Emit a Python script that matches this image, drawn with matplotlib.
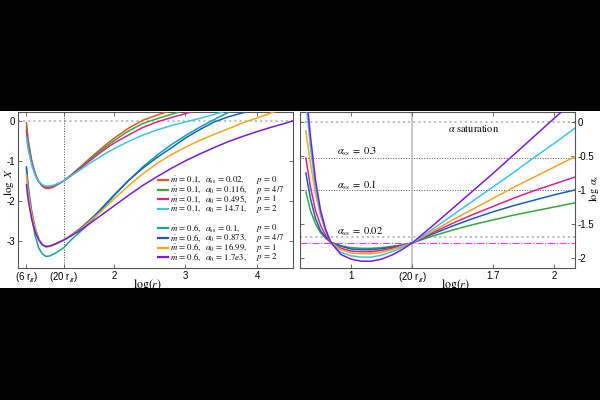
import numpy as np
import matplotlib
matplotlib.use('Agg')
import matplotlib.pyplot as plt
from matplotlib.patches import Rectangle

plt.rcParams['font.family'] = ['Liberation Sans', 'DejaVu Sans']
plt.rcParams['mathtext.fontset'] = 'stix'
plt.rcParams['axes.unicode_minus'] = False

# ---- left panel: log X vs log r ----
lr_left = [0.778, 0.8, 0.85, 0.9, 0.95, 1.0, 1.05, 1.1, 1.15, 1.2, 1.301,
           1.4, 1.5, 1.6, 1.7, 1.8, 1.9, 2.0, 2.2, 2.4, 2.6, 2.8, 3.0,
           3.2, 3.4, 3.6, 3.8, 4.0, 4.2, 4.4, 4.5]

logX_red = [-0.05, -0.45, -0.98, -1.32, -1.52, -1.64, -1.69, -1.69, -1.66, -1.61, -1.5,
            -1.36, -1.2, -1.04, -0.88, -0.73, -0.58, -0.44, -0.19, 0.01, 0.14, 0.26, 0.36,
            0.45, 0.53, 0.6, 0.66, 0.72, 0.77, 0.82, 0.84]
logX_green = [-0.15, -0.52, -1.02, -1.34, -1.52, -1.63, -1.67, -1.67, -1.65, -1.6, -1.5,
              -1.36, -1.21, -1.06, -0.91, -0.77, -0.63, -0.5, -0.26, -0.07, 0.05, 0.16, 0.27,
              0.36, 0.44, 0.51, 0.57, 0.63, 0.68, 0.73, 0.75]
logX_magenta = [-0.25, -0.6, -1.05, -1.35, -1.52, -1.62, -1.66, -1.66, -1.64, -1.59, -1.5,
                -1.37, -1.23, -1.09, -0.95, -0.81, -0.68, -0.56, -0.36, -0.17, -0.03, 0.08, 0.18,
                0.28, 0.36, 0.43, 0.5, 0.56, 0.61, 0.66, 0.68]
logX_cyan = [-0.4, -0.7, -1.1, -1.37, -1.52, -1.6, -1.63, -1.63, -1.61, -1.58, -1.5,
             -1.38, -1.26, -1.14, -1.02, -0.91, -0.8, -0.7, -0.52, -0.36, -0.23, -0.12, -0.03,
             0.06, 0.16, 0.26, 0.34, 0.42, 0.49, 0.55, 0.58]
logX_teal = [-1.2, -1.7, -2.4, -2.88, -3.18, -3.33, -3.39, -3.38, -3.34, -3.29, -3.17,
             -2.98, -2.82, -2.66, -2.48, -2.28, -2.08, -1.88, -1.5, -1.16, -0.86, -0.6, -0.37,
             -0.16, 0.03, 0.21, 0.37, 0.5, 0.6, 0.68, 0.72]
logX_blue = [-1.15, -1.6, -2.25, -2.68, -2.95, -3.1, -3.15, -3.14, -3.11, -3.07, -2.98,
             -2.86, -2.73, -2.58, -2.42, -2.24, -2.05, -1.86, -1.5, -1.19, -0.92, -0.68, -0.43,
             -0.22, -0.03, 0.1, 0.2, 0.29, 0.37, 0.44, 0.47]
logX_orange = [-1.35, -1.75, -2.32, -2.7, -2.96, -3.1, -3.15, -3.14, -3.11, -3.07, -2.98,
               -2.87, -2.75, -2.61, -2.46, -2.3, -2.13, -1.96, -1.63, -1.33, -1.07, -0.85, -0.66,
               -0.49, -0.34, -0.2, -0.05, 0.07, 0.2, 0.31, 0.35]
logX_purple = [-1.6, -1.95, -2.45, -2.78, -2.98, -3.1, -3.14, -3.13, -3.1, -3.06, -2.98,
               -2.88, -2.77, -2.65, -2.52, -2.39, -2.26, -2.13, -1.87, -1.62, -1.4, -1.19, -1.0,
               -0.83, -0.67, -0.52, -0.39, -0.27, -0.16, -0.06, 0.0]

# ---- right panel: log alpha_s vs log r ----
lr_right = [0.778, 0.8, 0.825, 0.85, 0.875, 0.9, 0.95, 1.0, 1.05, 1.1, 1.15, 1.2, 1.25,
            1.301, 1.4, 1.5, 1.6, 1.7, 1.8, 1.9, 2.0, 2.1]

la_green = [-1.03, -1.3, -1.5, -1.63, -1.71, -1.77, -1.82, -1.85, -1.86, -1.86, -1.85, -1.83, -1.81,
            -1.78, -1.68, -1.59, -1.51, -1.44, -1.37, -1.31, -1.25, -1.19]
la_blue = [-0.75, -1.12, -1.42, -1.6, -1.7, -1.77, -1.83, -1.87, -1.88, -1.88, -1.865, -1.845, -1.815,
           -1.78, -1.65, -1.53, -1.42, -1.32, -1.23, -1.15, -1.07, -1.0]
la_magenta = [-0.53, -0.95, -1.3, -1.52, -1.67, -1.77, -1.86, -1.9, -1.91, -1.91, -1.89, -1.86, -1.82,
              -1.78, -1.63, -1.49, -1.36, -1.24, -1.12, -1.01, -0.91, -0.81]
la_orange = [-0.13, -0.6, -1.05, -1.38, -1.6, -1.77, -1.88, -1.93, -1.94, -1.94, -1.92, -1.88, -1.83,
             -1.78, -1.61, -1.44, -1.28, -1.12, -0.96, -0.81, -0.66, -0.51]
la_cyan = [0.3, -0.35, -0.95, -1.35, -1.6, -1.77, -1.92, -1.97, -1.99, -1.99, -1.96, -1.91, -1.85,
           -1.78, -1.58, -1.37, -1.16, -0.95, -0.74, -0.52, -0.31, -0.09]
la_purple = [0.5, -0.2, -0.85, -1.3, -1.58, -1.77, -1.95, -2.02, -2.05, -2.05, -2.02, -1.96, -1.88,
             -1.78, -1.53, -1.27, -1.01, -0.75, -0.48, -0.21, 0.06, 0.33]

# reference levels
alpha_levels = [0.3, 0.1, 0.02]
alpha_level_names = [r'$\alpha_{\rm ss}\;=\;0.3$', r'$\alpha_{\rm ss}\;=\;0.1$',
                     r'$\alpha_{\rm ss}\;=\;0.02$']
alpha_floor = -1.78

# colours
c_red, c_green, c_magenta, c_cyan = '#e0561e', '#35a83a', '#e0208c', '#3cc4f2'
c_teal, c_blue, c_orange, c_purple = '#17a0a0', '#1560bd', '#f4a61c', '#7b1bd8'

left_series = [logX_red, logX_green, logX_magenta, logX_cyan,
               logX_teal, logX_blue, logX_orange, logX_purple]
left_colors = [c_red, c_green, c_magenta, c_cyan, c_teal, c_blue, c_orange, c_purple]
right_series = [la_green, la_blue, la_magenta, la_orange, la_cyan, la_purple]
right_colors = [c_green, c_blue, c_magenta, c_orange, c_cyan, c_purple]

mdot_labels = [r'$\dot{m}\,=\,0.1,$'] * 4 + [r'$\dot{m}\,=\,0.6,$'] * 4
alpha_labels = [r'$\alpha_{\rm ss}\,=\,0.02,$', r'$\alpha_0\,=\,0.116,$', r'$\alpha_0\,=\,0.495,$',
                r'$\alpha_0\,=\,14.71,$', r'$\alpha_{\rm ss}\,=\,0.1,$', r'$\alpha_0\,=\,0.873,$',
                r'$\alpha_0\,=\,16.99,$', r'$\alpha_0\,=\,1.7e3,$']
p_labels = [r'$p\,=\,0$', r'$p\,=\,4/7$', r'$p\,=\,1$', r'$p\,=\,2$',
            r'$p\,=\,0$', r'$p\,=\,4/7$', r'$p\,=\,1$', r'$p\,=\,2$']

left_xticks = [np.log10(6), np.log10(20), 2, 3, 4]
left_xticklabels = [r'(6 r$_\mathsf{g}$)', r'(20 r$_\mathsf{g}$)', '2', '3', '4']
left_yticks = [0, -1, -2, -3]
right_xticks = [1, np.log10(20), 1.7, 2]
right_xticklabels = ['1', r'(20 r$_\mathsf{g}$)', '1.7', '2']
right_yticks = [0, -0.5, -1, -1.5, -2]

fig = plt.figure(figsize=(6, 4), dpi=100, facecolor='black')
fig.patches.append(Rectangle((0, 0.28), 1, 0.4425, transform=fig.transFigure,
                             facecolor='white', edgecolor='none', zorder=-1))

ax1 = fig.add_axes([0.03, 0.33, 0.458, 0.39])
ax2 = fig.add_axes([0.5, 0.33, 0.458, 0.39])

for ax in (ax1, ax2):
    for s in ax.spines.values():
        s.set_color('#555555')
        s.set_linewidth(0.8)
    ax.tick_params(direction='in', length=3, width=0.6, color='#555555',
                   labelsize=7, pad=2, top=True, right=True, left=True, bottom=True)

# left panel
ax1.axhline(0, color='#bbbbbb', lw=1.4, ls=':', zorder=1)
ax1.axvline(np.log10(20), color='#444444', lw=0.7, ls=':', zorder=1)
for ys, c in zip(left_series, left_colors):
    ax1.plot(lr_left, ys, color=c, lw=1.1, zorder=3)
ax1.set_xlim(0.66, 4.5)
ax1.set_ylim(-3.68, 0.22)
ax1.set_xticks(left_xticks)
ax1.set_xticklabels(left_xticklabels)
ax1.set_yticks(left_yticks)
ax1.set_yticklabels([str(v) for v in left_yticks])
ax1.set_xlabel(r'$\log(r)$', fontsize=8.5)
ax1.set_ylabel(r'$\log\ X$', fontsize=8)
ax1.xaxis.set_label_coords(0.47, -0.06)
ax1.yaxis.set_label_coords(-0.006, 0.55)

# hand-built legend with aligned columns
row_y = 0.564
for i in range(8):
    y = row_y - 0.062 * i - (0.062 if i >= 4 else 0)
    ax1.plot([0.509, 0.545], [y, y], transform=ax1.transAxes, color=left_colors[i],
             lw=1.6, clip_on=False, zorder=4)
    ax1.text(0.553, y, mdot_labels[i], transform=ax1.transAxes, fontsize=6.3, va='center')
    ax1.text(0.68, y, alpha_labels[i], transform=ax1.transAxes, fontsize=6.3, va='center')
    ax1.text(0.866, y, p_labels[i], transform=ax1.transAxes, fontsize=6.3, va='center')

# right panel
ax2.axhline(0, color='#bbbbbb', lw=1.4, ls=':', zorder=1)
ax2.axhline(np.log10(alpha_levels[0]), color='#555555', lw=0.7, ls=':', zorder=1)
ax2.axhline(np.log10(alpha_levels[1]), color='#555555', lw=0.7, ls=':', zorder=1)
ax2.axhline(np.log10(alpha_levels[2]), color='#bbbbbb', lw=1.4, ls=':', zorder=1)
ax2.axhline(alpha_floor, color='#ff33ff', lw=0.8, ls='-.', zorder=1)
ax2.axvline(np.log10(20), color='#bbbbbb', lw=1.1, zorder=1)
for ys, c in zip(right_series, right_colors):
    ax2.plot(lr_right, ys, color=c, lw=1.1, zorder=3)
ax2.text(1.6, -0.09, r'$\alpha$ saturation', ha='center', va='center', fontsize=7.5,
         family='STIXGeneral')
for lev, name, dy in zip(alpha_levels, alpha_level_names, [0.09, 0.07, 0.09]):
    ax2.text(0.93, np.log10(lev) + dy, name, ha='left', va='center', fontsize=7.5)
ax2.set_xlim(0.749, 2.10)
ax2.set_ylim(-2.15, 0.15)
ax2.set_xticks(right_xticks)
ax2.set_xticklabels(right_xticklabels)
ax2.set_yticks(right_yticks)
ax2.set_yticklabels(['0', '-0.5', '-1', '-1.5', '-2'])
ax2.tick_params(labelleft=False, labelright=True)
ax2.set_xlabel(r'$\log(r)$', fontsize=8.5)
ax2.yaxis.set_label_position('right')
ax2.set_ylabel(r'$\log\ \alpha_{\rm s}$', fontsize=7.5, rotation=90)
ax2.xaxis.set_label_coords(0.564, -0.06)
ax2.yaxis.set_label_coords(1.043, 0.51)

fig.savefig('out.png', dpi=100, facecolor='black')
